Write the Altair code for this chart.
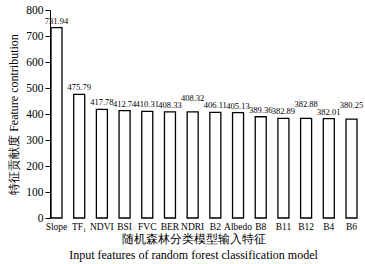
import altair as alt
import pandas as pd

features = ["Slope", "TF₁", "NDVI", "BSI", "FVC", "BER", "NDRI", "B2",
            "Albedo", "B8", "B11", "B12", "B4", "B6"]
values = [731.94, 475.79, 417.78, 412.74, 410.31, 408.33, 408.32, 406.11,
          405.13, 389.36, 382.89, 382.88, 382.01, 380.25]
raised = ["NDRI", "B12", "B6"]

df = pd.DataFrame({"feature": features, "value": values})
df["label"] = [f"{v:.2f}" for v in values]
df["raised"] = [f in raised for f in features]

SERIF = "Liberation Serif"

x = alt.X("feature:N", sort=features,
          scale=alt.Scale(paddingInner=0.515, paddingOuter=0.044),
          axis=alt.Axis(title=["随机森林分类模型输入特征",
                               "Input features of random forest classification model"],
                        labelAngle=0, domain=False, ticks=False, tickSize=0,
                        labelPadding=3, labelFont=SERIF, labelFontSize=9.5,
                        labelColor="black", titleFont=SERIF, titleFontSize=12,
                        titleFontWeight=300, titleColor="black",
                        titleLineHeight=16, titlePadding=3, titleX=143,
                        titleAlign="center"))
y = alt.Y("value:Q", scale=alt.Scale(domain=[0, 800], nice=False),
          axis=alt.Axis(title="特征贡献度 Feature contribution",
                        values=list(range(0, 801, 100)), grid=False,
                        labelOverlap=False, labelFlush=False,
                        domainColor="black", tickColor="black", tickSize=5,
                        labelPadding=2, labelFont=SERIF, labelFontSize=11.5,
                        labelColor="black", titleFont=SERIF, titleFontSize=12,
                        titleFontWeight=300, titleColor="black",
                        titlePadding=5))

base = alt.Chart(df)
bars = base.mark_bar(fill="white", stroke="black", strokeWidth=1.3).encode(x=x, y=y)
labels = base.transform_filter(alt.datum.raised == False).mark_text(
    baseline="bottom", dy=-2, font=SERIF, fontSize=8.5, color="black"
).encode(x=x, y=y, text="label:N")
labels_hi = base.transform_filter(alt.datum.raised == True).mark_text(
    baseline="bottom", dy=-9, font=SERIF, fontSize=8.5, color="black"
).encode(x=x, y=y, text="label:N")

chart = (bars + labels + labels_hi).properties(
    width=308, height=208,
    autosize=alt.AutoSizeParams(type="none"),
    padding={"left": 50, "top": 10, "right": 7, "bottom": 46},
    background="white",
).configure_view(stroke=None)

chart.save("out.html", embed_options={"renderer": "svg", "actions": False})
